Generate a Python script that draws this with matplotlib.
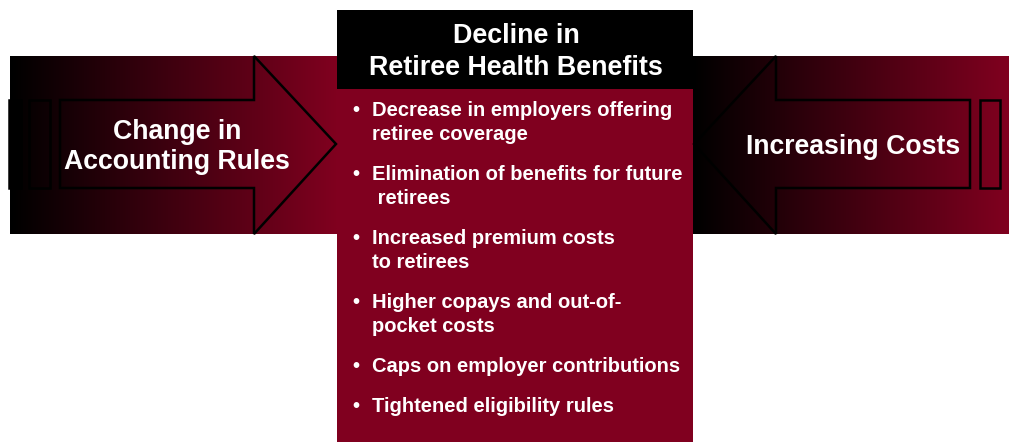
import numpy as np
import matplotlib
matplotlib.use("Agg")
import matplotlib.pyplot as plt
from matplotlib.colors import LinearSegmentedColormap
from matplotlib.patches import Polygon, Rectangle

# diagram text
left_label = "Change in\nAccounting Rules"
right_label = "Increasing Costs"
center_title = "Decline in\nRetiree Health Benefits"
bullets = [
    "Decrease in employers offering\nretiree coverage",
    "Elimination of benefits for future\n retirees",
    "Increased premium costs\nto retirees",
    "Higher copays and out-of-\npocket costs",
    "Caps on employer contributions",
    "Tightened eligibility rules",
]

RED = "#80001f"
plt.rcParams['font.family'] = ['Liberation Sans', 'DejaVu Sans']

fig = plt.figure(figsize=(10.09, 4.42), dpi=100)
ax = fig.add_axes([0, 0, 1, 1])

cmap = LinearSegmentedColormap.from_list("blk_red", ["#000000", RED])
grad = np.linspace(0, 1, 256).reshape(1, -1)

# side boxes with black -> red gradient
ax.imshow(grad, cmap=cmap, extent=(10, 337, 234, 56), aspect='auto', zorder=1)
ax.imshow(grad, cmap=cmap, extent=(693, 1009, 234, 56), aspect='auto', zorder=1)
ax.set_xlim(0, 1009)
ax.set_ylim(442, 0)
ax.axis('off')

# right-pointing arrow outline
left_arrow = [(60, 100), (254, 100), (254, 56), (336, 144), (254, 234), (254, 188), (60, 188)]
ax.add_patch(Polygon(left_arrow, closed=True, fill=False, ec='black', lw=1.8, zorder=3))
ax.add_patch(Rectangle((9, 100), 12, 88, fc='black', ec='black', lw=1.8, zorder=3))
ax.add_patch(Rectangle((29, 100), 21, 88, fill=False, ec='black', lw=1.8, zorder=3))

# left-pointing arrow outline
right_arrow = [(694, 144), (776, 56), (776, 100), (970, 100), (970, 188), (776, 188), (776, 234)]
ax.add_patch(Polygon(right_arrow, closed=True, fill=False, ec='black', lw=1.8, zorder=3))
ax.add_patch(Rectangle((980, 100), 20, 88, fill=False, ec='black', lw=1.8, zorder=3))

# center box
ax.add_patch(Rectangle((337, 89), 356, 353, fc=RED, ec='none', zorder=2))
ax.add_patch(Rectangle((337, 10), 356, 79, fc='black', ec='none', zorder=2))

txt = dict(color='white', fontweight='bold', zorder=4)
ax.text(177, 147, left_label, ha='center', va='center', fontsize=19.2, linespacing=1.22, **txt)
ax.text(853, 147, right_label, ha='center', va='center', fontsize=19.2, **txt)
ax.text(516, 52, center_title, ha='center', va='center', fontsize=19.4, linespacing=1.3, **txt)

y = 111
for item in bullets:
    lines = item.split("\n")
    ax.text(352, y, "\u2022", ha='left', va='center', fontsize=14.5, **txt)
    for ln in lines:
        ax.text(372, y, ln, ha='left', va='center', fontsize=14.5, **txt)
        y += 24
    y += 16

fig.savefig("out.png", dpi=100, facecolor='white')
